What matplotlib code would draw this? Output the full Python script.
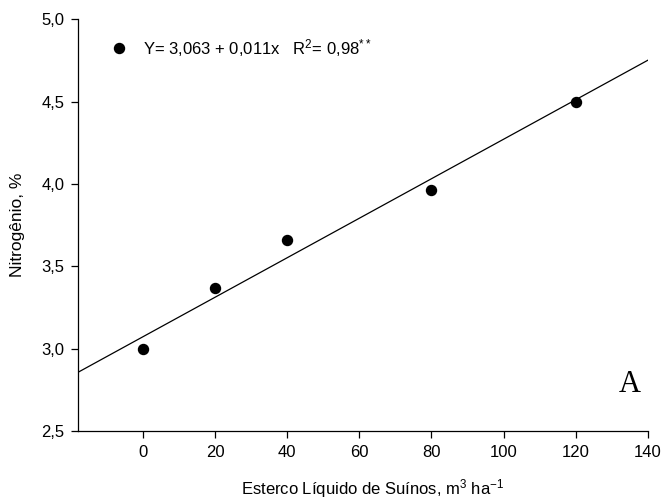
import matplotlib
matplotlib.use("Agg")
import matplotlib.pyplot as plt
from matplotlib.ticker import FuncFormatter
import numpy as np

# Doses of pig slurry (m3/ha) and nitrogen content (%)
dose = [0, 20, 40, 80, 120]
nitrogen = [2.997, 3.37, 3.66, 3.96, 4.50]

# Fitted line as drawn on the chart
fit_intercept = 3.073
fit_slope = 0.01198

xticks = [0, 20, 40, 60, 80, 100, 120, 140]
yticks = [2.5, 3.0, 3.5, 4.0, 4.5, 5.0]

plt.rcParams["font.family"] = ["Liberation Sans", "DejaVu Sans"]
plt.rcParams["mathtext.fontset"] = "custom"
plt.rcParams["mathtext.rm"] = "Liberation Sans"
plt.rcParams["mathtext.it"] = "Liberation Sans:italic"
plt.rcParams["mathtext.bf"] = "Liberation Sans:bold"
plt.rcParams["mathtext.default"] = "rm"

fig = plt.figure(figsize=(6.63, 5.03), dpi=100)
ax = fig.add_axes([0.118, 0.143, 0.859, 0.819])

x_line = np.array([-18, 140])
ax.plot(x_line, fit_intercept + fit_slope * x_line, color="black", lw=0.9)
ax.plot(dose, nitrogen, "o", color="black", markersize=7.2)

# legend-like entry
ax.plot([-6.6], [4.822], "o", color="black", markersize=7.2, clip_on=False)
ax.text(0, 4.822, "Y= 3,063 + 0,011x   R$^2$= 0,98$^{**}$", fontsize=12,
        va="center", ha="left")

ax.text(138, 2.78, "A", fontsize=22, family=["Liberation Serif"], ha="right",
        va="center")

ax.set_xlim(-18, 140)
ax.set_ylim(2.5, 5.0)
ax.set_xticks(xticks)
ax.set_yticks(yticks)
ax.yaxis.set_major_formatter(FuncFormatter(lambda v, p: f"{v:.1f}".replace(".", ",")))
ax.spines["top"].set_visible(False)
ax.spines["right"].set_visible(False)
ax.tick_params(direction="out", length=5, width=0.9, labelsize=12, pad=5)
for s in ("left", "bottom"):
    ax.spines[s].set_linewidth(0.9)

ax.set_xlabel("Esterco Líquido de Suínos, m$^3$ ha$^{-1}$", fontsize=12)
ax.set_ylabel("Nitrogênio, %", fontsize=12.5)
ax.xaxis.set_label_coords(0.516, -0.112)
ax.yaxis.set_label_coords(-0.094, 0.5)

fig.savefig("out.png", dpi=100)
